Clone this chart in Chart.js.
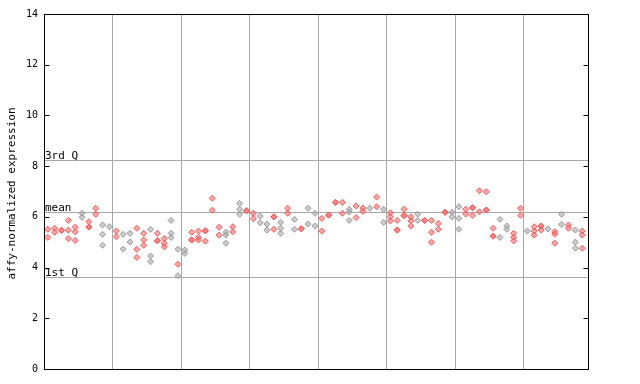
<!DOCTYPE html>
<html>
<head>
<meta charset="utf-8">
<script src="https://cdn.jsdelivr.net/npm/chart.js@4/dist/chart.umd.min.js"></script>
<style>
html,body{margin:0;padding:0;background:#fff;}
#wrap{width:640px;height:384px;position:relative;}
</style>
</head>
<body>
<div id="wrap"><canvas id="c" width="640" height="384"></canvas></div>
<script>
// ---- data ----
const yTicks = [0, 2, 4, 6, 8, 10, 12, 14];
const groupBounds = [10, 20, 30, 40, 50, 60, 70];
const refLabels = ['3rd Q', 'mean', '1st Q'];
const refValues = [8.23, 6.21, 3.62];
const yTitle = 'affy-normalized expression';

const redSamples = [0,1,2,3,4,6,7,10,13,14,16,17,19,21,22,23,24,25,27,29,30,33,35,37,40,41,42,43,45,46,48,50,51,52,53,55,56,57,58,61,62,63,64,65,68,69,71,72,74,76,78];
const redValues = [
  [5.51,5.19],[5.55,5.39],[5.47,5.47],[5.86,5.47,5.14],[5.59,5.41,5.07],[5.81,5.6,5.6],[6.34,6.1],
  [5.44,5.22],[5.55,4.72,4.4],[5.35,5.09,4.88],[5.35,5.06,5.06],[5.15,4.96,4.82],[4.13],
  [5.39,5.09,5.09],[5.44,5.19,5.09],[5.45,5.45,5.04],[6.73,6.26],[5.59,5.28],[5.61,5.41],[6.24,6.24],
  [6.14,5.93],[6.0,6.0,5.51],[6.34,6.14],[5.53,5.53],
  [5.94,5.44],[6.07,6.07],[6.57,6.57],[6.57,6.14],[6.43,5.97],[6.35,6.22],[6.78,6.4],
  [6.16,6.0,5.84],[5.86,5.48,5.48],[6.3,6.05,6.05],[6.0,5.84,5.64],[5.86,5.86],[5.86,5.39,5.0],[5.74,5.51],[6.18,6.18],
  [6.3,6.11],[6.36,6.36,6.06],[7.03,6.2],[6.99,6.27,6.27],[5.55,5.24,5.24],[5.35,5.19,5.05],[6.34,6.06],
  [5.61,5.44,5.28],[5.64,5.64,5.48],[5.41,5.32,4.96],[5.68,5.55],[5.44,5.28,4.76]
];
const greySamples = [5,8,9,11,12,15,18,19,20,26,28,31,32,34,36,38,39,44,47,49,54,59,60,66,67,70,73,75,77];
const greyValues = [
  [6.14,5.98],[5.68,5.31,4.88],[5.61],[5.31,4.73],[5.35,5.01],[5.51,4.46,4.23],[5.86,5.35,5.19],[4.72,3.68],
  [4.69,4.56],[5.39,5.28,4.96],[6.53,6.3,6.1],[6.03,5.77],[5.72,5.48],[5.78,5.55,5.35],[5.9,5.51],[6.34,5.72],[6.14,5.64],
  [6.3,6.19,5.86],[6.34],[6.3,5.78],[6.11,5.86],[6.18,6.0],
  [6.4,5.94,5.51],[5.9,5.19],[5.64,5.51],[5.44],[5.52],[6.1,5.7],[5.48,5.0,4.76]
];

function toPoints(samples, values) {
  const pts = [];
  samples.forEach((s, i) => values[i].forEach(v => pts.push({x: s + 0.55, y: v})));
  return pts;
}

const MONO = '"DejaVu Sans Mono", "Liberation Mono", monospace';

const framePlugin = {
  id: 'frame',
  beforeDatasetsDraw(chart) {
    const {ctx, chartArea: a, scales: {y}} = chart;
    ctx.save();
    ctx.strokeStyle = '#a8a8a8';
    ctx.lineWidth = 1;
    ctx.font = '11px ' + MONO;
    ctx.fillStyle = '#000';
    ctx.textAlign = 'left';
    ctx.textBaseline = 'alphabetic';
    refValues.forEach((v, i) => {
      const py = Math.round(y.getPixelForValue(v)) + 0.5;
      ctx.beginPath();
      ctx.moveTo(a.left, py);
      ctx.lineTo(a.right, py);
      ctx.stroke();
      ctx.fillText(refLabels[i], a.left + 1, py - 2);
    });
    ctx.restore();
  },
  afterDatasetsDraw(chart) {
    const {ctx, chartArea: a, scales: {y}} = chart;
    ctx.save();
    ctx.strokeStyle = '#000';
    ctx.lineWidth = 1;
    const l = Math.round(a.left) + 0.5, r = Math.round(a.right) + 0.5;
    const t = Math.round(a.top) + 0.5, b = Math.round(a.bottom) + 0.5;
    ctx.strokeRect(l, t, r - l, b - t);
    yTicks.forEach(v => {
      const py = Math.round(y.getPixelForValue(v)) + 0.5;
      ctx.beginPath();
      ctx.moveTo(l, py); ctx.lineTo(l + 5, py);
      ctx.moveTo(r, py); ctx.lineTo(r - 5, py);
      ctx.stroke();
    });
    ctx.font = '11px ' + MONO;
    ctx.fillStyle = '#000';
    ctx.translate(12, (a.top + a.bottom) / 2 + 2);
    ctx.rotate(-Math.PI / 2);
    ctx.textAlign = 'center';
    ctx.textBaseline = 'middle';
    ctx.fillText(yTitle, 0, 0);
    ctx.restore();
  }
};

new Chart(document.getElementById('c'), {
  type: 'scatter',
  data: {
    datasets: [
      {
        label: 'grey',
        data: toPoints(greySamples, greyValues),
        pointStyle: 'rectRot',
        radius: 3,
        borderWidth: 1,
        borderColor: 'rgba(150,150,150,0.95)',
        backgroundColor: 'rgba(170,170,170,0.6)'
      },
      {
        label: 'red',
        data: toPoints(redSamples, redValues),
        pointStyle: 'rectRot',
        radius: 3,
        borderWidth: 1,
        borderColor: 'rgba(255,80,80,0.95)',
        backgroundColor: 'rgba(255,110,110,0.6)'
      }
    ]
  },
  options: {
    responsive: false,
    animation: false,
    events: [],
    layout: {padding: {top: 14, right: 52, bottom: 15, left: 0}},
    plugins: {legend: {display: false}, tooltip: {enabled: false}},
    scales: {
      x: {
        type: 'linear',
        min: 0,
        max: 79.4,
        afterBuildTicks(s) { s.ticks = groupBounds.map(v => ({value: v})); },
        ticks: {display: false},
        grid: {color: '#a8a8a8', lineWidth: 1, drawTicks: false},
        border: {display: false},
        afterFit(s) { s.height = 0; }
      },
      y: {
        min: 0,
        max: 14,
        afterBuildTicks(s) { s.ticks = yTicks.map(v => ({value: v})); },
        ticks: {
          padding: 6,
          color: '#000',
          font: {family: MONO, size: 10}
        },
        grid: {display: false, drawTicks: false},
        border: {display: false},
        afterFit(s) { s.width = 44; }
      }
    }
  },
  plugins: [framePlugin]
});
</script>
</body>
</html>
